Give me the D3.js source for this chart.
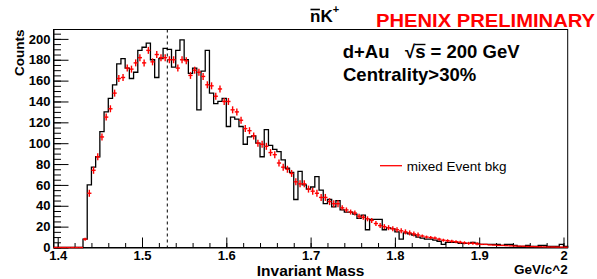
<!DOCTYPE html>
<html>
<head>
<meta charset="utf-8">
<script src="https://cdn.jsdelivr.net/npm/d3@7"></script>
<style>
body { margin: 0; background: #fff; }
svg { display: block; font-family: "Liberation Sans", Arial, Helvetica, sans-serif; }
</style>
</head>
<body>
<svg id="main"></svg>
<script>
// nK+ invariant mass, 0.005 GeV bins starting at 1.395
var binStart = 1.395;
var binWidth = 0.005;

// same event pairs (black histogram)
var counts = [
  0, 0, 0, 0, 0, 0, 0, 8, 60, 77,
  87, 111, 130, 143, 156, 176, 181, 172, 162, 168,
  189, 192, 196, 180, 163, 181, 191, 190, 173, 189,
  199, 180, 167, 172, 132, 169, 189, 148, 138, 140,
  143, 116, 125, 123, 116, 99, 106, 107, 100, 87,
  113, 98, 94, 92, 84, 76, 72, 46, 73, 60,
  56, 58, 68, 55, 42, 46, 39, 45, 36, 34,
  34, 32, 28, 31, 17, 27, 27, 27, 17, 19,
  18, 15, 8, 14, 13, 12, 10, 9, 8, 8,
  7, 6, 3, 5, 5, 5, 4, 4, 4, 5,
  4, 3, 3, 3, 3, 3, 2, 3, 3, 2,
  1, 1, 2, 1, 1, 2, 2, 1, 1, 1,
  3, 1
];

// mixed event background (red crosses)
var mixedBkg = [
  0, 0, 0, 0, 0, 0, 0, 8, 52, 74,
  87, 106, 125, 133, 148, 162, 163, 172, 171, 177,
  182, 177, 189, 178, 185, 182, 182, 180, 180, 172,
  180, 179, 165, 170, 168, 164, 156, 155, 145, 152,
  140, 140, 132, 130, 122, 114, 112, 107, 100, 99,
  97, 91, 89, 81, 77, 75, 71, 63, 61, 61,
  56, 54, 52, 48, 48, 44, 42, 42, 38, 36,
  34, 33, 30, 29, 27.5, 26, 23, 21, 20, 19,
  18, 17, 16, 15, 14, 13, 12, 11, 10, 9.5,
  9, 8, 7, 6.5, 6, 5.5, 5, 4.5, 4, 4,
  3.5, 3, 3, 2.5, 2.3, 2, 2, 1.8, 1.6, 1.4,
  1.3, 1.2, 1.0, 0.9, 0.8, 0.7, 0.6, 0.5, 0.5, 0.4,
  0.4, 0.3
];

var xTicks = [1.4, 1.5, 1.6, 1.7, 1.8, 1.9, 2.0];
var xTickLabels = ["1.4", "1.5", "1.6", "1.7", "1.8", "1.9", "2"];
var xMinorStep = 0.02;
var yTicks = [0, 20, 40, 60, 80, 100, 120, 140, 160, 180, 200];
var yMinorStep = 5;
var yMax = 209;
var cutMass = 1.53;
var legendLabel = "mixed Event bkg";

var W = 597, H = 279;
var fL = 53.5, fR = 567.7, fT = 29.5, fB = 247.5;

var s = d3.select("#main").attr("width", W).attr("height", H);

var x = d3.scaleLinear()
  .domain([binStart, binStart + counts.length * binWidth])
  .range([fL, fR]);
var y = d3.scaleLinear().domain([0, yMax]).range([fB, fT]);

function binLo(i) { return binStart + i * binWidth; }

// frame
s.append("rect")
  .attr("x", fL).attr("y", fT)
  .attr("width", fR - fL).attr("height", fB - fT)
  .attr("fill", "none").attr("stroke", "#000").attr("stroke-width", 1);

// axes
var xMinor = d3.range(1.4, 2.0001, xMinorStep);
s.append("g").attr("transform", "translate(0," + fB + ")")
  .call(d3.axisBottom(x).tickValues(xMinor).tickSize(-4.5).tickSizeOuter(0).tickFormat(""))
  .call(function(g) { g.select(".domain").remove(); });

var gx = s.append("g").attr("transform", "translate(0," + fB + ")")
  .call(d3.axisBottom(x).tickValues(xTicks).tickSize(-10).tickSizeOuter(0).tickPadding(3)
    .tickFormat(function(d, i) { return xTickLabels[i]; }));
gx.select(".domain").attr("stroke", "#000");
gx.selectAll("text").attr("font-size", "13px").attr("font-weight", "bold")
  .attr("fill", "#000").attr("font-family", null);

var yMinor = d3.range(0, yMax, yMinorStep);
s.append("g").attr("transform", "translate(" + fL + ",0)")
  .call(d3.axisLeft(y).tickValues(yMinor).tickSize(-7.5).tickSizeOuter(0).tickFormat(""))
  .call(function(g) { g.select(".domain").remove(); });

var gy = s.append("g").attr("transform", "translate(" + fL + ",0)")
  .call(d3.axisLeft(y).tickValues(yTicks).tickSize(-15).tickSizeOuter(0).tickPadding(3));
gy.select(".domain").attr("stroke", "#000");
gy.selectAll("text").attr("font-size", "13px").attr("font-weight", "bold")
  .attr("fill", "#000").attr("font-family", null);
s.selectAll(".tick line").attr("stroke", "#000");

// same event histogram
var d = "M" + x(binLo(0)) + "," + y(0);
counts.forEach(function(c, i) {
  d += "V" + y(c) + "H" + x(binLo(i + 1));
});
d += "V" + y(0);
s.append("path").attr("d", d)
  .attr("fill", "none").attr("stroke", "#000").attr("stroke-width", 1.3);

// mixed event bkg crosses
var bk = s.append("g").attr("stroke", "#ff0000").attr("stroke-width", 1.4);
mixedBkg.forEach(function(v, i) {
  var yy = y(v);
  bk.append("line")
    .attr("x1", x(binLo(i))).attr("x2", x(binLo(i + 1)))
    .attr("y1", yy).attr("y2", yy);
  var e = v >= 40 ? 3.5 : (v >= 12 ? 2.5 : (v > 3 ? 1.5 : 0));
  if (e > 0) {
    var xc = x(binLo(i) + binWidth / 2);
    bk.append("line").attr("x1", xc).attr("x2", xc)
      .attr("y1", yy - e).attr("y2", yy + e);
  }
});

// cut line
s.append("line")
  .attr("x1", x(cutMass)).attr("x2", x(cutMass))
  .attr("y1", fT).attr("y2", fB)
  .attr("stroke", "#000").attr("stroke-width", 1)
  .attr("stroke-dasharray", "3,3");

// axis titles
s.append("text")
  .attr("transform", "translate(23.5," + fT + ") rotate(-90)")
  .attr("text-anchor", "end")
  .attr("font-size", "13.5px").attr("font-weight", "bold")
  .text("Counts");

s.append("text")
  .attr("x", (fL + fR) / 2).attr("y", 275.5)
  .attr("text-anchor", "middle")
  .attr("font-size", "15.5px").attr("font-weight", "bold")
  .text("Invariant Mass");

s.append("text")
  .attr("x", fR).attr("y", 273.5)
  .attr("text-anchor", "end")
  .attr("font-size", "13.5px").attr("font-weight", "bold")
  .text("GeV/c^2");

// title  nbar K+
var t = s.append("text")
  .attr("x", 310).attr("y", 21.7)
  .attr("font-size", "17px").attr("font-weight", "bold");
t.append("tspan").text("nK");
t.append("tspan").attr("dy", -9).attr("font-size", "11px").text("+");
var tn = t.node();
var n0 = tn.getStartPositionOfChar(0).x, n1 = tn.getEndPositionOfChar(0).x;
s.append("line").attr("x1", n0 + 0.5).attr("x2", n1 - 0.5)
  .attr("y1", 9.5).attr("y2", 9.5)
  .attr("stroke", "#000").attr("stroke-width", 1.6);

s.append("text")
  .attr("x", 376).attr("y", 27.3)
  .attr("font-size", "17.5px").attr("font-weight", "bold")
  .attr("fill", "#ff0000")
  .attr("textLength", 219).attr("lengthAdjust", "spacingAndGlyphs")
  .text("PHENIX PRELIMINARY");

// collision system
s.append("text")
  .attr("x", 342.7).attr("y", 58)
  .attr("font-size", "18.5px").attr("font-weight", "bold")
  .text("d+Au");
var sq = s.append("text")
  .attr("x", 405).attr("y", 58)
  .attr("font-size", "18.5px").attr("font-weight", "bold")
  .text("\u221As = 200 GeV");
var sn = sq.node();
s.append("line")
  .attr("x1", sn.getEndPositionOfChar(0).x - 0.5).attr("x2", sn.getEndPositionOfChar(1).x)
  .attr("y1", 44.5).attr("y2", 44.5)
  .attr("stroke", "#000").attr("stroke-width", 1.4);

s.append("text")
  .attr("x", 343).attr("y", 81)
  .attr("font-size", "18.5px").attr("font-weight", "bold")
  .text("Centrality>30%");

// legend
s.append("line")
  .attr("x1", 380).attr("x2", 402)
  .attr("y1", 165.7).attr("y2", 165.7)
  .attr("stroke", "#ff0000").attr("stroke-width", 1.3);
s.append("text")
  .attr("x", 406.7).attr("y", 170.5)
  .attr("font-size", "13.5px")
  .text(legendLabel);
</script>
</body>
</html>
